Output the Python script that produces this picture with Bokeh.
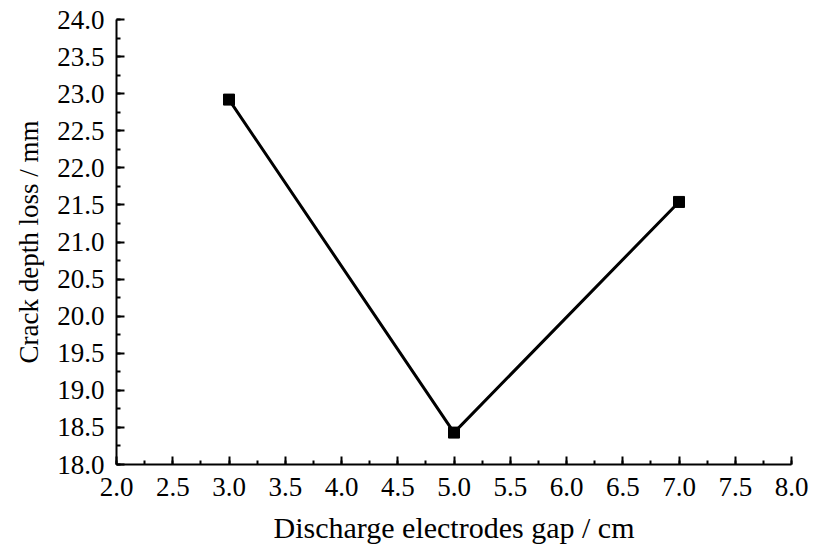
from bokeh.plotting import figure
from bokeh.models import Range1d, SingleIntervalTicker, PrintfTickFormatter
from bokeh.embed import file_html
from bokeh.resources import INLINE

gap_cm = [3.0, 5.0, 7.0]
depth_loss_mm = [22.92, 18.43, 21.54]

x_title = "Discharge electrodes gap / cm"
y_title = "Crack depth loss / mm"

FONT = "Liberation Serif"

p = figure(width=820, height=546, output_backend="svg", toolbar_location=None,
           x_range=Range1d(2.0, 8.0), y_range=Range1d(18.0, 24.0),
           min_border_left=116, min_border_right=29, min_border_top=19, min_border_bottom=81)
p.outline_line_color = None
p.xgrid.visible = False
p.ygrid.visible = False
p.background_fill_color = "white"
p.border_fill_color = "white"

p.line(gap_cm, depth_loss_mm, line_color="black", line_width=3)
p.scatter(gap_cm, depth_loss_mm, marker="square", size=11, color="black")

for ax in (p.xaxis[0], p.yaxis[0]):
    ax.ticker = SingleIntervalTicker(interval=0.5, num_minor_ticks=2)
    ax.formatter = PrintfTickFormatter(format="%.1f")
    ax.axis_line_width = 2
    ax.axis_line_color = "black"
    ax.major_tick_in = 8
    ax.major_tick_out = 0
    ax.minor_tick_in = 4
    ax.minor_tick_out = 0
    ax.major_tick_line_width = 2
    ax.minor_tick_line_width = 2
    ax.major_tick_line_color = "black"
    ax.minor_tick_line_color = "black"
    ax.major_label_text_font = FONT
    ax.major_label_text_font_size = "27px"
    ax.major_label_text_color = "black"
    ax.axis_label_text_font = FONT
    ax.axis_label_text_font_style = "normal"
    ax.axis_label_text_color = "black"

p.xaxis.axis_label = x_title
p.yaxis.axis_label = y_title
p.xaxis.axis_label_text_font_size = "30px"
p.yaxis.axis_label_text_font_size = "27px"
p.xaxis.major_label_standoff = 13
p.xaxis.axis_label_standoff = 12
p.yaxis.major_label_standoff = 12
p.yaxis.axis_label_standoff = 10

open("out.html", "w").write(file_html(p, INLINE))
